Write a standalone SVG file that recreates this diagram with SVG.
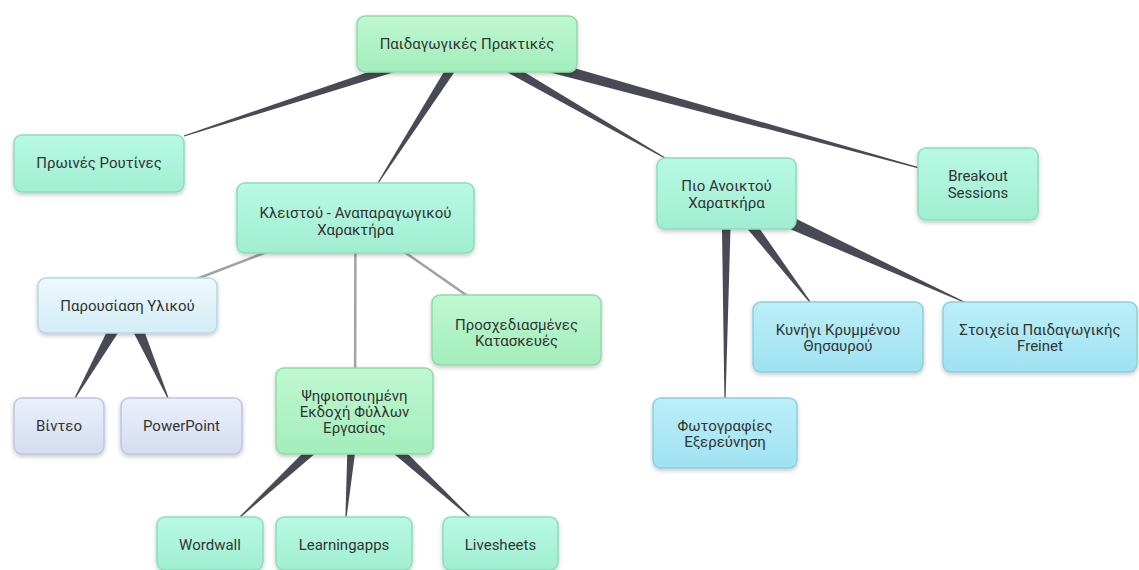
<svg xmlns="http://www.w3.org/2000/svg" width="1139" height="570" viewBox="0 0 1139 570">
<defs>
<linearGradient id="gGreen" x1="0" y1="0" x2="0" y2="1"><stop offset="0" stop-color="#bff8d0"/><stop offset="1" stop-color="#a3edbb"/></linearGradient>
<linearGradient id="gMint" x1="0" y1="0" x2="0" y2="1"><stop offset="0" stop-color="#b8f9e3"/><stop offset="1" stop-color="#a0eed2"/></linearGradient>
<linearGradient id="gBlue" x1="0" y1="0" x2="0" y2="1"><stop offset="0" stop-color="#edf9fd"/><stop offset="1" stop-color="#d2ecf5"/></linearGradient>
<linearGradient id="gLav" x1="0" y1="0" x2="0" y2="1"><stop offset="0" stop-color="#eaf0fb"/><stop offset="1" stop-color="#d4dcf1"/></linearGradient>
<linearGradient id="gCyan" x1="0" y1="0" x2="0" y2="1"><stop offset="0" stop-color="#bbeff9"/><stop offset="1" stop-color="#9fe1f0"/></linearGradient>
<filter id="sh" x="-10%" y="-10%" width="120%" height="140%"><feDropShadow dx="0" dy="2" stdDeviation="2" flood-color="#000" flood-opacity="0.22"/></filter>
</defs>
<style>
.n rect{rx:8px;ry:8px;stroke-width:1.5;filter:url(#sh)}
.green rect{fill:url(#gGreen);stroke:#8edba9}
.mint rect{fill:url(#gMint);stroke:#8cdcc0}
.blue rect{fill:url(#gBlue);stroke:#b8d6e3}
.lav rect{fill:url(#gLav);stroke:#bcc6de}
.cyan rect{fill:url(#gCyan);stroke:#8ccfe0}
.n text{font-family:Roboto,"Noto Sans",sans-serif;font-size:15px;fill:#333;text-anchor:middle}
.w{fill:#4a4a56}
.g{stroke:#a2a2a2;stroke-width:2.5;fill:none}
</style>
<rect width="1139" height="570" fill="#fff"/>
<g id="connectors">
<polygon class="w" points="465.3,38.8 183.8,135.4 184.2,136.6 468.7,49.2"/>
<polygon class="w" points="462.4,41.0 377.5,182.7 378.5,183.3 471.6,47.0"/>
<polygon class="w" points="464.3,48.8 664.7,158.5 665.3,157.5 469.7,39.2"/>
<polygon class="w" points="465.3,50.3 917.8,168.2 918.2,167.0 468.7,37.7"/>
<line class="g" x1="355.5" y1="218" x2="127.5" y2="305.5"/>
<line class="g" x1="355.5" y1="218" x2="355" y2="411"/>
<line class="g" x1="355.5" y1="218" x2="516.5" y2="330"/>
<polygon class="w" points="121.4,302.1 74.5,397.7 75.5,398.3 133.6,309.0"/>
<polygon class="w" points="121.1,308.3 167.5,398.2 168.6,397.8 133.9,302.7"/>
<polygon class="w" points="721.5,193.5 724.4,398 725.6,398 731.5,193.5"/>
<polygon class="w" points="721.0,197.8 809.5,302.4 810.5,301.6 732.1,189.2"/>
<polygon class="w" points="723.2,200.8 963.8,302.6 964.3,301.5 729.8,186.2"/>
<polygon class="w" points="349.7,405.9 239.6,516.6 240.4,517.4 359.3,416.1"/>
<polygon class="w" points="348.5,410.5 345.4,517.0 346.6,517.1 360.5,411.5"/>
<polygon class="w" points="349.4,416.5 469.6,517.4 470.4,516.6 359.6,405.5"/>
</g>
<g id="n-top" class="n green"><rect x="357" y="16" width="220" height="56"/><text x="467" y="49">Παιδαγωγικές Πρακτικές</text></g>
<g id="n-proines" class="n mint"><rect x="14" y="135" width="170" height="57"/><text x="99" y="168">Πρωινές Ρουτίνες</text></g>
<g id="n-kleistou" class="n mint"><rect x="237" y="183" width="237" height="70"/><text x="355.5" y="218">Κλειστού - Αναπαραγωγικού</text><text x="355.5" y="235">Χαρακτήρα</text></g>
<g id="n-parousiasi" class="n blue"><rect x="38" y="278" width="179" height="55"/><text x="127.5" y="311">Παρουσίαση Υλικού</text></g>
<g id="n-video" class="n lav"><rect x="14" y="398" width="90" height="56"/><text x="59" y="431">Βίντεο</text></g>
<g id="n-ppt" class="n lav"><rect x="121" y="398" width="121" height="56"/><text x="181.5" y="431">PowerPoint</text></g>
<g id="n-prosxed" class="n green"><rect x="432" y="295" width="169" height="70"/><text x="516.5" y="330">Προσχεδιασμένες</text><text x="516.5" y="346">Κατασκευές</text></g>
<g id="n-psif" class="n green"><rect x="276" y="368" width="157" height="86"/><text x="354.5" y="401">Ψηφιοποιημένη</text><text x="354.5" y="417">Εκδοχή Φύλλων</text><text x="354.5" y="433">Εργασίας</text></g>
<g id="n-wordwall" class="n mint"><rect x="157" y="517" width="106" height="53"/><text x="210" y="550">Wordwall</text></g>
<g id="n-learning" class="n mint"><rect x="276" y="517" width="136" height="53"/><text x="344" y="550">Learningapps</text></g>
<g id="n-livesheets" class="n mint"><rect x="443" y="517" width="115" height="53"/><text x="500.5" y="550">Livesheets</text></g>
<g id="n-pio" class="n mint"><rect x="657" y="158" width="139" height="71"/><text x="726.5" y="191">Πιο Ανοικτού</text><text x="726.5" y="208">Χαρατκήρα</text></g>
<g id="n-breakout" class="n mint"><rect x="918" y="148" width="120" height="72"/><text x="978" y="181">Breakout</text><text x="978" y="198">Sessions</text></g>
<g id="n-kynigi" class="n cyan"><rect x="753" y="302" width="170" height="70"/><text x="838" y="335">Κυνήγι Κρυμμένου</text><text x="838" y="351">Θησαυρού</text></g>
<g id="n-stoixeia" class="n cyan"><rect x="943" y="302" width="194" height="70"/><text x="1040" y="335">Στοιχεία Παιδαγωγικής</text><text x="1040" y="351">Freinet</text></g>
<g id="n-foto" class="n cyan"><rect x="653" y="398" width="144" height="70"/><text x="725" y="431">Φωτογραφίες</text><text x="725" y="447">Εξερεύνηση</text></g>
</svg>
